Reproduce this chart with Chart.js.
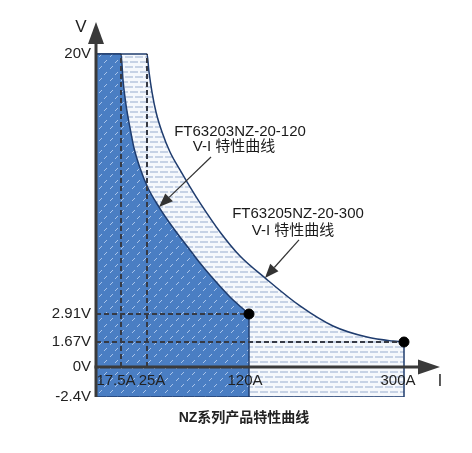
<!DOCTYPE html>
<html>
<head>
<meta charset="utf-8">
<script src="https://cdn.jsdelivr.net/npm/chart.js@4.4.1/dist/chart.umd.min.js"></script>
<style>
html,body{margin:0;padding:0;background:#fff;}
#wrap{width:472px;height:453px;position:relative;}
</style>
</head>
<body>
<div id="wrap"><canvas id="c"></canvas></div>
<script>
// ---------- data ----------
const xTickValues = [17.5, 25, 120, 300];
const xTickLabels = ['17.5A', '25A', '120A', '300A'];
const yTickValues = [-2.4, 0, 1.67, 2.91, 20];
const yTickLabels = ['-2.4V', '0V', '1.67V', '2.91V', '20V'];

// FT63203NZ-20-120 boundary (current A, voltage V)
const curve120I = [0, 17.5, 18.08, 18.94, 20.10, 21.25, 22.98, 25.93, 36.18, 50.15, 65.05, 74.36, 83.68, 102.30, 120];
const curve120V = [20, 20, 18.29, 16.65, 15.14, 13.82, 12.51, 11.19, 9.94, 8.50, 7.12, 6.26, 5.47, 4.03, 2.91];

// FT63205NZ-20-300 boundary
const curve300I = [0, 25, 26.86, 29.66, 33.38, 38.97, 46.42, 55.74, 65.05, 74.36, 92.99, 111.62, 138.58, 179.23, 217.55, 257.03, 287.23, 300];
const curve300V = [20, 20, 18.82, 17.50, 16.19, 14.87, 13.56, 12.38, 11.26, 10.21, 8.30, 6.72, 5.28, 3.44, 2.38, 1.89, 1.71, 1.67];

const ratedI = [120, 300];      // max current of each model
const ratedV = [2.91, 1.67];    // voltage at max current
const cornerI = [17.5, 25];     // current at 20V corner
const vMax = 20, vMin = -2.4;

const seriesNames = ['FT63203NZ-20-120', 'FT63205NZ-20-300'];
const curveCaption = 'V-I 特性曲线';
const annotTipI = [36.18, 138.58];
const annotTipV = [9.94, 5.28];
const chartTitle = 'NZ系列产品特性曲线';

// ---------- piecewise (schematic) axis ----------
const PIECES = {
  x: { values: [0, 17.5, 25, 120, 300, 342], fractions: [0, 25/344, 51/344, 153/344, 308/344, 1] },
  y: { values: [-2.4, 0, 1.67, 2.91, 20, 22.1], fractions: [0, 30/375, 55/375, 83/375, 343/375, 1] }
};
class PiecewiseScale extends Chart.LinearScale {
  getPixelForValue(value) {
    if (value === null || value === undefined || isNaN(value)) return NaN;
    const pw = PIECES[this.id];
    const b = pw.values, f = pw.fractions;
    let i = 0;
    while (i < b.length - 2 && value > b[i + 1]) i++;
    const dec = f[i] + (value - b[i]) / (b[i + 1] - b[i]) * (f[i + 1] - f[i]);
    return this.getPixelForDecimal(dec);
  }
  getValueForPixel(pixel) {
    const dec = this.getDecimalForPixel(pixel);
    const pw = PIECES[this.id];
    const b = pw.values, f = pw.fractions;
    let i = 0;
    while (i < f.length - 2 && dec > f[i + 1]) i++;
    return b[i] + (dec - f[i]) / (f[i + 1] - f[i]) * (b[i + 1] - b[i]);
  }
}
PiecewiseScale.id = 'piecewise';
PiecewiseScale.defaults = Chart.LinearScale.defaults;
Chart.register(PiecewiseScale);

// ---------- fill patterns ----------
function lightPattern() {
  const c = document.createElement('canvas'); c.width = 10; c.height = 10;
  const g = c.getContext('2d');
  g.fillStyle = '#f5f8fc'; g.fillRect(0, 0, 10, 10);
  g.fillStyle = '#c6d2e5';
  g.fillRect(0, 1, 8, 2);
  g.fillRect(5, 6, 5, 2); g.fillRect(0, 6, 3, 2);
  return g.createPattern(c, 'repeat');
}
function darkPattern() {
  const c = document.createElement('canvas'); c.width = 11; c.height = 12;
  const g = c.getContext('2d');
  g.fillStyle = '#4a7ec3'; g.fillRect(0, 0, 11, 12);
  g.fillStyle = '#a9c4ea';
  g.fillRect(7, 0, 1, 1); g.fillRect(6, 1, 1, 1); g.fillRect(5, 2, 1, 1);
  g.fillRect(2, 6, 1, 1); g.fillRect(1, 7, 1, 1); g.fillRect(0, 8, 1, 1);
  return g.createPattern(c, 'repeat');
}

const FONT = '"Liberation Sans", "Noto Sans CJK SC", Arial, sans-serif';
Chart.defaults.font.family = FONT;

const pts = (xs, ys) => xs.map((x, i) => ({ x, y: ys[i] }));
const EDGE = '#1f3c6e';
const DASH = '#363a45';
const edge = (data) => ({ data, borderColor: EDGE, borderWidth: 1.5, pointRadius: 0, fill: false, order: 8 });
const dashed = (data) => ({ data, borderColor: DASH, borderWidth: 2, borderDash: [5, 3], pointRadius: 0, fill: false, order: 5 });

// ---------- decorations: axes, arrows, x labels, callouts ----------
const decor = {
  id: 'decor',
  afterDatasetsDraw(chart) {
    const { ctx, chartArea: ca } = chart;
    const xs = chart.scales.x, ys = chart.scales.y;
    const x0 = xs.getPixelForValue(0), y0 = ys.getPixelForValue(0), yb = ys.getPixelForValue(vMin);
    ctx.save();
    // callouts
    const callout = [
      { tip: 0, l1: [81, -75], l2: [75, -60], start: [52, -50] },
      { tip: 1, l1: [33, -64], l2: [28, -47], start: [34, -38] }
    ];
    callout.forEach((c, k) => {
      const tx = xs.getPixelForValue(annotTipI[c.tip]), ty = ys.getPixelForValue(annotTipV[c.tip]);
      ctx.fillStyle = '#1a1a1a';
      ctx.font = '15px ' + FONT;
      ctx.textAlign = 'center'; ctx.textBaseline = 'middle';
      ctx.fillText(seriesNames[k], tx + c.l1[0], ty + c.l1[1]);
      ctx.fillText(curveCaption, tx + c.l2[0], ty + c.l2[1]);
      const sx = tx + c.start[0], sy = ty + c.start[1];
      const ang = Math.atan2(ty - sy, tx - sx);
      const hl = 14, hw = 5.5;
      const bx = tx - hl * Math.cos(ang), by = ty - hl * Math.sin(ang);
      ctx.strokeStyle = '#333'; ctx.lineWidth = 1.2;
      ctx.beginPath(); ctx.moveTo(sx, sy); ctx.lineTo(bx, by); ctx.stroke();
      ctx.fillStyle = '#333';
      ctx.beginPath();
      ctx.moveTo(tx, ty);
      ctx.lineTo(bx + hw * Math.sin(ang), by - hw * Math.cos(ang));
      ctx.lineTo(bx - hw * Math.sin(ang), by + hw * Math.cos(ang));
      ctx.closePath(); ctx.fill();
    });
    // axes
    ctx.strokeStyle = '#3a3a3a'; ctx.fillStyle = '#3a3a3a'; ctx.lineWidth = 3;
    ctx.beginPath(); ctx.moveTo(x0, yb); ctx.lineTo(x0, ca.top + 20); ctx.stroke();
    ctx.beginPath(); ctx.moveTo(x0 - 1.5, y0); ctx.lineTo(ca.right - 20, y0); ctx.stroke();
    ctx.beginPath(); ctx.moveTo(x0, ca.top); ctx.lineTo(x0 - 8, ca.top + 22); ctx.lineTo(x0 + 8, ca.top + 22); ctx.closePath(); ctx.fill();
    ctx.beginPath(); ctx.moveTo(ca.right, y0); ctx.lineTo(ca.right - 22, y0 - 7.5); ctx.lineTo(ca.right - 22, y0 + 7.5); ctx.closePath(); ctx.fill();
    // x tick labels
    const shift = [-5, 5, -4, -6];
    ctx.fillStyle = '#222'; ctx.font = '15px ' + FONT;
    ctx.textAlign = 'center'; ctx.textBaseline = 'middle';
    xTickValues.forEach((v, i) => ctx.fillText(xTickLabels[i], xs.getPixelForValue(v) + shift[i], y0 + 14));
    // axis names
    ctx.font = '17px ' + FONT;
    ctx.fillText('V', x0 - 15, ca.top + 5);
    ctx.font = '16px ' + FONT;
    ctx.fillText('I', ca.right, y0 + 15);
    ctx.restore();
  }
};

new Chart(document.getElementById('c'), {
  type: 'line',
  data: {
    datasets: [
      { label: seriesNames[1], data: pts(curve300I, curve300V), fill: 'start', backgroundColor: lightPattern(),
        borderColor: EDGE, borderWidth: 1.5, pointRadius: 0, cubicInterpolationMode: 'monotone', order: 10 },
      { label: seriesNames[0], data: pts(curve120I, curve120V), fill: 'start', backgroundColor: darkPattern(),
        borderColor: EDGE, borderWidth: 1.5, pointRadius: 0, cubicInterpolationMode: 'monotone', order: 9 },
      edge([{ x: ratedI[1], y: ratedV[1] }, { x: ratedI[1], y: vMin }]),
      edge([{ x: ratedI[0], y: ratedV[0] }, { x: ratedI[0], y: vMin }]),
      edge([{ x: 0, y: vMin }, { x: ratedI[1], y: vMin }]),
      dashed([{ x: cornerI[0], y: 0 }, { x: cornerI[0], y: vMax }]),
      dashed([{ x: cornerI[1], y: 0 }, { x: cornerI[1], y: vMax }]),
      dashed([{ x: 0, y: ratedV[0] }, { x: ratedI[0], y: ratedV[0] }]),
      dashed([{ x: 0, y: ratedV[1] }, { x: ratedI[1], y: ratedV[1] }]),
      { data: pts(ratedI, ratedV), showLine: false, pointRadius: 5, pointHoverRadius: 5,
        pointBackgroundColor: '#000', pointBorderColor: '#000', order: 0 }
    ]
  },
  options: {
    responsive: true, maintainAspectRatio: false, animation: false, events: [],
    layout: { padding: { left: 48, right: 32, top: 22, bottom: 26.6 } },
    scales: {
      x: { type: 'piecewise', min: 0, max: 342, display: false },
      y: {
        type: 'piecewise', min: -2.4, max: 22.1, position: 'left',
        grid: { display: false, drawTicks: false }, border: { display: false },
        afterFit: (s) => { s.width = 48; },
        afterBuildTicks: (s) => { s.ticks = yTickValues.map(v => ({ value: v })); },
        ticks: { autoSkip: false, padding: 5, color: '#222', font: { size: 15 },
                 callback: (v, i) => yTickLabels[i] }
      }
    },
    plugins: {
      legend: { display: false }, tooltip: { enabled: false },
      title: { display: true, text: chartTitle, position: 'bottom', color: '#222',
               font: { size: 14, weight: 'bold' }, padding: { top: 12.6, bottom: 0 } }
    }
  },
  plugins: [decor]
});
</script>
</body>
</html>
